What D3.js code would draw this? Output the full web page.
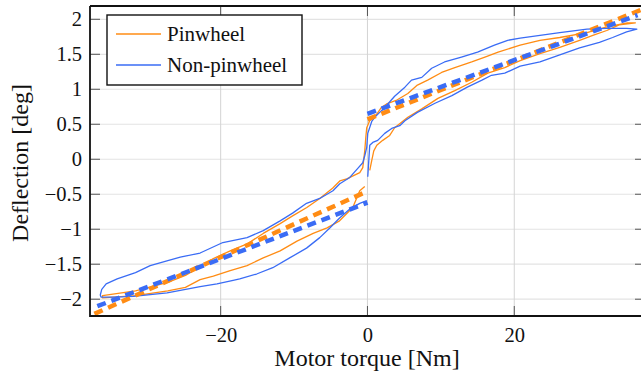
<!DOCTYPE html>
<html>
<head>
<meta charset="utf-8">
<script src="https://cdn.jsdelivr.net/npm/d3@7"></script>
<style>
  body { margin: 0; background: #fff; }
  svg { display: block; }
  svg text { font-family: "Liberation Serif", "Times New Roman", "DejaVu Serif", serif; }
</style>
</head>
<body>
<svg id="chart" width="641" height="377"></svg>
<script>
// torque [Nm], deflection [deg]
var pinwheelTrace = [
  [0.31, -0.16], [0.58, -0.02], [0.86, 0.12], [1.27, 0.20], [2.08, 0.27], [3.03, 0.34],
  [3.7, 0.45], [5.5, 0.60], [7.4, 0.72], [9.6, 0.87], [11.9, 0.98], [14.2, 1.10],
  [16.4, 1.23], [18.7, 1.31], [20.8, 1.41], [23.5, 1.51], [26.2, 1.60], [28.9, 1.70],
  [30.7, 1.77], [32.6, 1.84], [34.3, 1.92], [35.7, 1.94], [36.5, 1.95],
  [35.4, 1.95], [32.6, 1.89], [29.9, 1.81], [26.2, 1.74], [23.5, 1.70], [20.8, 1.63],
  [17.8, 1.53], [16.0, 1.46], [14.2, 1.39], [11.9, 1.31], [10.1, 1.24], [8.2, 1.13],
  [6.8, 1.06], [5.5, 0.94], [3.9, 0.84], [2.6, 0.79], [1.9, 0.74], [1.3, 0.65],
  [0.3, 0.55], [-0.1, 0.45], [-0.23, 0.31], [-0.37, 0.12], [-0.64, -0.12],
  [-1.05, -0.19], [-2.82, -0.28], [-3.77, -0.31], [-4.72, -0.41], [-6.5, -0.56],
  [-8.26, -0.69], [-10.2, -0.81], [-11.9, -0.92], [-14.2, -1.06], [-16.4, -1.21],
  [-18.7, -1.31], [-21.0, -1.42], [-23.0, -1.55], [-24.8, -1.66], [-27.2, -1.76],
  [-31.6, -1.88], [-36.1, -1.95],
  [-36.1, -1.98], [-31.6, -1.95], [-27.2, -1.88], [-24.8, -1.83], [-22.8, -1.72],
  [-21.0, -1.67], [-18.7, -1.59], [-16.4, -1.52], [-14.2, -1.41], [-11.9, -1.31],
  [-9.6, -1.17], [-7.4, -1.06], [-5.5, -0.98], [-3.8, -0.88], [-2.0, -0.69],
  [-1.05, -0.45], [-0.37, -0.39]
];

var nonPinwheelTrace = [
  [0.04, -0.25], [0.18, -0.02], [0.31, 0.20], [0.72, 0.24], [1.40, 0.27], [2.35, 0.37],
  [3.3, 0.44], [4.4, 0.48], [5.1, 0.55], [6.8, 0.67], [9.2, 0.80], [11.5, 0.91],
  [13.6, 1.03], [15.6, 1.13], [16.9, 1.20], [18.7, 1.23], [20.8, 1.33], [23.5, 1.39],
  [26.2, 1.49], [28.9, 1.59], [31.6, 1.67], [33.4, 1.74], [35.3, 1.82], [36.7, 1.86],
  [35.3, 1.87], [32.6, 1.87], [29.9, 1.86], [26.2, 1.81], [23.5, 1.77], [20.8, 1.73],
  [19.1, 1.70], [17.3, 1.63], [15.0, 1.53], [12.8, 1.46], [10.5, 1.39], [8.75, 1.30],
  [7.4, 1.17], [6.0, 1.13], [5.1, 1.03], [3.7, 0.90], [2.35, 0.74], [1.67, 0.67],
  [0.99, 0.60], [0.58, 0.54], [0.04, 0.37], [-0.1, 0.17], [-0.37, 0.05], [-0.64, -0.05],
  [-1.32, -0.13], [-2.41, -0.26], [-3.77, -0.35], [-4.7, -0.45], [-6.5, -0.56],
  [-8.3, -0.63], [-10.2, -0.77], [-11.9, -0.88], [-14.2, -1.02], [-16.4, -1.12],
  [-19.7, -1.19], [-22.8, -1.34], [-25.5, -1.40], [-27.2, -1.45], [-29.6, -1.52],
  [-31.6, -1.62], [-34.1, -1.71], [-35.6, -1.78], [-36.2, -1.86], [-36.4, -1.94],
  [-36.3, -1.97], [-34.4, -1.97], [-31.9, -1.96], [-27.3, -1.91], [-22.8, -1.82],
  [-20.5, -1.78], [-18.3, -1.73], [-17.4, -1.71], [-15.1, -1.64], [-12.9, -1.55],
  [-10.6, -1.41], [-8.3, -1.27], [-6.5, -1.12], [-5.1, -0.98], [-3.8, -0.84],
  [-2.4, -0.71], [-1.05, -0.63], [-0.1, -0.59]
];

// linear fits, one per torque sign
var pinwheelFit = [
  [[-37.2, -2.21], [-0.5, -0.48]],
  [[0, 0.57], [37.4, 2.14]]
];
var nonPinwheelFit = [
  [[-36.8, -2.10], [0, -0.62]],
  [[0, 0.65], [36.8, 2.06]]
];

var series = [
  { name: 'Pinwheel', color: '#ff8c14', trace: pinwheelTrace, fit: pinwheelFit },
  { name: 'Non-pinwheel', color: '#3a6cf5', trace: nonPinwheelTrace, fit: nonPinwheelFit }
];

var xTicks = [-20, 0, 20];
var yTicks = [-2, -1.5, -1, -0.5, 0, 0.5, 1, 1.5, 2];
var xDomain = [-37.8, 37.4];
var yDomain = [-2.24, 2.19];

var svg = d3.select('#chart');
var plotLeft = 90, plotRight = 642, plotTop = 6, plotBottom = 316;
var serif = '"Liberation Serif", "Times New Roman", "DejaVu Serif", serif';

var x = d3.scaleLinear().domain(xDomain).range([plotLeft, plotRight]);
var y = d3.scaleLinear().domain(yDomain).range([plotBottom, plotTop]);

var fmt = function (d) { return String(d).replace('-', '\u2212'); };

svg.append('defs').append('clipPath')
  .attr('id', 'plot-clip')
  .append('rect')
  .attr('x', plotLeft).attr('y', plotTop)
  .attr('width', plotRight - plotLeft).attr('height', plotBottom - plotTop);

// grid
svg.append('g')
  .selectAll('line')
  .data(yTicks)
  .enter().append('line')
  .attr('x1', plotLeft).attr('x2', plotRight)
  .attr('y1', y).attr('y2', y)
  .attr('stroke', '#e3e3e3')
  .attr('stroke-width', 1.2);

svg.append('g')
  .selectAll('line')
  .data(xTicks)
  .enter().append('line')
  .attr('x1', x).attr('x2', x)
  .attr('y1', plotTop).attr('y2', plotBottom)
  .attr('stroke', '#d4d4d4')
  .attr('stroke-width', 1);

// axes: labels from d3 axis, inward ticks drawn separately
var xAxis = svg.append('g')
  .attr('transform', 'translate(0,' + plotBottom + ')')
  .call(d3.axisBottom(x).tickValues(xTicks).tickFormat(fmt).tickSize(0).tickPadding(11));

var yAxis = svg.append('g')
  .attr('transform', 'translate(' + plotLeft + ',0)')
  .call(d3.axisLeft(y).tickValues(yTicks).tickFormat(fmt).tickSize(0).tickPadding(8));

// d3 axis sets font-family on the group, override it
[xAxis, yAxis].forEach(function (g) {
  g.attr('font-family', serif);
  g.select('.domain').remove();
  g.selectAll('text')
    .style('font-family', serif)
    .style('font-size', '20.5px')
    .attr('fill', '#111');
});

var ticks = svg.append('g').attr('stroke', '#555').attr('stroke-width', 1);
xTicks.forEach(function (t) {
  ticks.append('line').attr('x1', x(t)).attr('x2', x(t)).attr('y1', plotBottom).attr('y2', plotBottom - 10);
  ticks.append('line').attr('x1', x(t)).attr('x2', x(t)).attr('y1', plotTop).attr('y2', plotTop + 10);
});
yTicks.forEach(function (t) {
  ticks.append('line').attr('x1', plotLeft).attr('x2', plotLeft + 10).attr('y1', y(t)).attr('y2', y(t));
  ticks.append('line').attr('x1', plotRight - 1).attr('x2', plotRight - 7).attr('y1', y(t)).attr('y2', y(t));
});

// data
var line = d3.line()
  .x(function (d) { return x(d[0]); })
  .y(function (d) { return y(d[1]); });

var plot = svg.append('g').attr('clip-path', 'url(#plot-clip)');

series.forEach(function (s) {
  plot.append('path')
    .datum(s.trace)
    .attr('d', line)
    .attr('fill', 'none')
    .attr('stroke', s.color)
    .attr('stroke-width', 1.3)
    .attr('stroke-linejoin', 'round');
});

series.forEach(function (s) {
  plot.selectAll(null)
    .data(s.fit)
    .enter().append('path')
    .attr('d', line)
    .attr('fill', 'none')
    .attr('stroke', s.color)
    .attr('stroke-width', 4.5)
    .attr('stroke-dasharray', '9,6');
});

// frame
svg.append('path')
  .attr('d', 'M' + plotLeft + ',' + plotTop + 'H' + plotRight +
    'M' + plotLeft + ',' + plotTop + 'V' + plotBottom + 'H' + plotRight)
  .attr('fill', 'none')
  .attr('stroke', '#111')
  .attr('stroke-width', 1.8);

// axis titles
svg.append('text')
  .attr('x', 367)
  .attr('y', 366)
  .attr('text-anchor', 'middle')
  .style('font-family', serif)
  .style('font-size', '24px')
  .attr('fill', '#111')
  .text('Motor torque [Nm]');

svg.append('text')
  .attr('transform', 'translate(28,' + ((plotTop + plotBottom) / 2 + 2) + ') rotate(-90)')
  .attr('text-anchor', 'middle')
  .style('font-family', serif)
  .style('font-size', '24px')
  .attr('fill', '#111')
  .text('Deflection [deg]');

// legend
var legend = svg.append('g').attr('transform', 'translate(107,15)');
legend.append('rect')
  .attr('width', 195).attr('height', 70)
  .attr('fill', '#fff')
  .attr('stroke', '#111')
  .attr('stroke-width', 1.4);

var item = legend.selectAll('.item')
  .data(series)
  .enter().append('g')
  .attr('class', 'item')
  .attr('transform', function (d, i) { return 'translate(0,' + (19 + i * 31) + ')'; });

item.append('line')
  .attr('x1', 9).attr('x2', 54)
  .attr('stroke', function (d) { return d.color; })
  .attr('stroke-width', 1.3);

item.append('text')
  .attr('x', 60)
  .attr('y', 7)
  .style('font-family', serif)
  .style('font-size', '21px')
  .attr('fill', '#111')
  .text(function (d) { return d.name; });
</script>
</body>
</html>
